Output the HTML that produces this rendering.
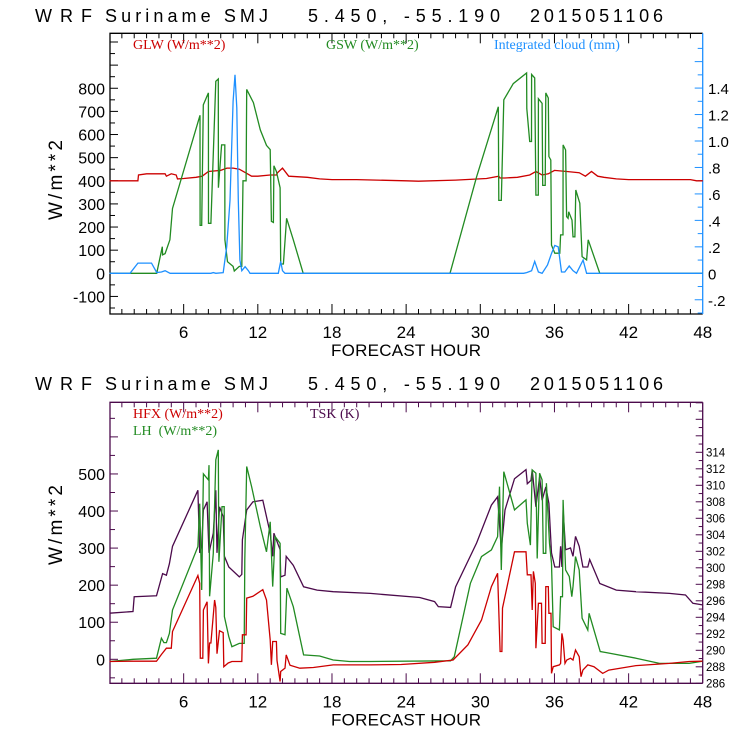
<!DOCTYPE html>
<html><head><meta charset="utf-8"><style>
html,body{margin:0;padding:0;background:#fff;}
svg{display:block;}
</style></head><body>
<svg id="chart" width="740" height="740" viewBox="0 0 740 740" xmlns="http://www.w3.org/2000/svg"></svg>
<script>
// ---- Top panel data ----
const hours_ticks = [6,12,18,24,30,36,42,48];
const glw_hours = [0,2.3,2.35,3,4.5,4.6,5,5.4,5.5,6,7,7.5,8,9,9.5,10,10.5,11,11.5,12,13,13.5,13.6,14,14.5,16,17,18,20,24,25,28,30.5,31.5,31.6,32,33,34,34.5,35,35.5,36,37,38,38.5,39,39.5,40,41,42,47,47.5,48];
const glw_vals  = [400,400,425,430,430,420,430,425,408,410,415,420,440,445,455,455,450,435,420,420,425,425,435,455,420,415,408,405,405,400,398,403,410,420,412,412,415,425,440,425,430,445,440,435,420,440,420,415,408,405,405,400,400];
const gsw_hours = [0,3.82,4.27,4.3,4.5,4.89,5.1,7.32,7.33,7.46,7.59,8.0,8.01,8.2,8.6,8.8,8.81,9.07,9.33,9.34,9.55,10.0,10.1,10.5,10.7,10.8,11.05,11.1,11.64,12.2,12.7,13.0,13.1,13.26,13.3,13.5,13.8,13.85,14.07,14.33,14.87,15.67,27.55,29.7,31.46,31.5,31.7,31.9,32.67,33.75,33.76,34.0,34.14,34.15,34.4,34.5,34.69,34.7,35.0,35.05,35.25,35.3,35.5,35.55,35.7,35.76,36.03,36.43,36.5,36.69,36.7,36.9,36.98,37.1,37.15,37.42,37.5,37.65,37.73,38.05,38.24,38.6,38.73,39.67,48];
const gsw_vals  = [0,0,115,80,85,145,280,683,207,207,728,780,216,216,830,840,370,555,555,145,50,30,10,30,30,400,400,795,738,620,553,535,225,220,465,440,370,40,40,238,145,0,0,417,720,315,315,750,820,866,712,570,570,860,845,338,338,755,735,380,380,780,758,505,490,122,87,87,166,166,555,533,245,238,266,230,158,158,360,303,72,58,145,0,0];
const cloud_hours = [0,1.66,2.3,3.4,3.82,4.2,4.5,4.9,8.2,8.4,8.6,9.2,9.48,9.75,10.0,10.15,10.3,10.42,10.55,10.7,10.97,11.24,11.37,13.66,13.85,14.0,14.2,33.5,33.75,34.15,34.4,34.7,35.0,35.44,35.76,36.03,36.3,36.57,36.84,37.19,37.5,37.78,38.32,38.6,48];
const cloud_vals  = [0,0,0.077,0.077,0.006,0.01,0.02,0,0,0.005,0,0.005,0.2,0.55,1.3,1.5,1.25,0.55,0.1,0.02,0.05,0.02,0,0,0.09,0.02,0,0,0.005,0.02,0.09,0.01,0,0.063,0.15,0.21,0.2,0.01,0.01,0.055,0.02,0,0.1,0,0];
const top_left_ticks = [-100,0,100,200,300,400,500,600,700,800];
const top_right_ticks = [-0.2,0,0.2,0.4,0.6,0.8,1.0,1.2,1.4];
const top_right_labels = ["-.2","0",".2",".4",".6",".8","1.0","1.2","1.4"];
// ---- Bottom panel data ----
const hfx_hours = [0,1.9,3.8,4.2,4.6,5.0,5.1,7.15,7.3,7.35,7.55,7.6,7.9,8.0,8.1,8.2,8.5,8.6,8.7,8.9,9.2,9.25,9.6,9.9,10.7,10.75,11.05,11.1,11.6,12.4,12.7,13.0,13.1,13.2,13.5,13.55,13.8,13.85,14.2,14.3,14.6,15.4,16.5,18.1,21.1,23.6,26.3,27.8,29.0,30.1,30.9,31.4,31.6,31.75,31.8,32.77,33.7,33.8,34.1,34.2,34.3,34.45,34.5,34.7,34.95,35.0,35.25,35.3,35.5,35.55,35.72,35.76,35.9,36.4,36.5,36.6,36.7,36.85,37.0,37.3,37.5,37.7,38.0,38.15,38.3,38.7,39.2,39.9,40.4,42.6,45.3,46.9,47.97];
const hfx_vals  = [-6,-5,-5,13,30,30,75,226,205,3,3,133,155,-11,44,44,160,140,15,77,72,-20,-10,-6,-6,66,66,165,170,188,160,52,-15,48,48,-3,-60,-33,-24,12,-16,-24,-22,-15,-15,-14,-8,-2,39,106,196,232,21,21,138,290,290,228,228,133,237,205,30,151,151,43,43,196,196,124,124,-38,-20,-15,-11,70,52,-11,-2,3,-2,25,7,-47,-29,-15,-20,-38,-29,-17,-11,-6,-5];
const lh_hours = [0,1.9,3.8,4.2,4.4,4.6,4.85,5.1,7.15,7.3,7.46,7.6,8.0,8.05,8.1,8.4,8.6,8.8,8.85,9.1,9.28,9.3,9.65,9.9,10.5,10.9,10.95,11.1,11.5,12.2,12.7,13.0,13.2,13.4,13.8,13.85,14.2,14.35,14.87,15.7,17.0,18.1,19.4,21.1,27.6,27.9,29.2,30.1,30.9,31.4,31.55,31.7,31.9,32.77,33.7,33.8,34.05,34.2,34.5,34.6,34.8,35.0,35.1,35.3,35.35,35.6,35.76,35.9,36.4,36.5,36.65,36.7,36.9,37.2,37.4,37.5,37.7,38.0,38.24,38.7,38.8,39.7,40.2,42.6,44.5,46.9,47.97];
const lh_vals  = [-6,0,3,57,45,45,70,133,304,420,187,500,484,524,170,286,538,565,263,412,412,115,61,34,43,43,268,520,466,358,290,371,196,331,313,70,66,192,142,12,9,-2,-6,-6,-4,7,205,277,295,331,466,241,506,403,430,367,308,511,502,272,502,484,286,286,475,313,259,88,79,169,169,430,241,223,169,196,277,241,111,79,124,21,18,3,-11,-11,-5];
const tsk_hours = [0,1.9,2.0,3.8,4.3,4.6,4.85,5.1,7.15,7.3,7.45,7.6,7.9,8.05,8.4,8.6,8.7,8.9,9.2,9.3,9.65,10.5,10.7,10.75,11.1,11.6,12.4,13.0,13.2,13.3,13.8,13.85,14.2,14.3,14.87,15.7,16.8,18.1,21.1,25.1,26.3,26.6,27.6,28.0,29.7,30.9,31.4,31.7,32.0,32.77,33.7,33.8,34.1,34.2,34.5,34.8,35.0,35.3,35.55,35.76,36.03,36.4,36.5,36.6,36.7,36.9,37.3,37.5,37.7,38.0,38.3,38.7,38.85,39.67,41.0,42.6,45.3,46.6,47.2,47.97];
const tsk_vals  = [294.5,294.7,296.5,296.6,299.3,299.1,300.5,302.6,309.4,301.8,302.5,307,308,301.8,304.2,309.4,301.8,307.4,306.2,301.4,300.1,298.9,299.2,303.4,307,308,308.2,304.2,301.4,304.2,302.2,298.9,299.1,301.4,300.3,297.7,297.3,297.1,296.9,296.4,295.9,295.3,295.2,297.7,303,307.6,308.6,302.2,307,310.8,311.9,310.2,310.6,311.9,307.4,311,308.2,309.8,307.8,301.8,300.1,300.1,302.6,300.1,307,302.2,302.4,301.4,303.8,302.6,300.1,300.1,301,298.1,297.3,297.1,296.9,296.7,295.7,295.5];
const bot_left_ticks = [0,100,200,300,400,500];
const bot_right_ticks = [286,288,290,292,294,296,298,300,302,304,306,308,310,312,314];

const NS='http://www.w3.org/2000/svg';
const svg=document.getElementById('chart');
function mk(tag,attrs,parent){const e=document.createElementNS(NS,tag);for(const k in attrs)e.setAttribute(k,attrs[k]);(parent||svg).appendChild(e);return e;}
const X0=109.5, XH=12.36;
function xs(h){return X0+h*XH;}
function yTopL(v){return 273.3-v*0.2313;}
function yTopR(v){return 273.3-v*132.3;}
function yBotL(v){return 659.3-v*0.3707;}
function yBotR(v){return 683.3-(v-286)*8.25;}

const MONO='"Liberation Mono", monospace';
const SANS='"Liberation Sans", sans-serif';
const SERIF='"Liberation Serif", serif';

function title(y){
  const parts=[['WRF',35,57],['Suriname SMJ',105,163],['5.450, -55.190',308,192],['2015051106',530,133]];
  parts.forEach(p=>{
    const t=mk('text',{x:p[1],y:y,'font-family':SANS,'font-size':18,fill:'#000',textLength:p[2],lengthAdjust:'spacing'});
    
    
    t.textContent=p[0];
  });
}
function xaxis(top,bot,col){
  for(let h=1;h<48;h++){
    const len=(h%6===0)?10:5;
    const t1=mk('line',{x1:xs(h),x2:xs(h),y1:bot,y2:bot-len,stroke:col,'stroke-width':1});
    
    
    const t2=mk('line',{x1:xs(h),x2:xs(h),y1:top,y2:top+len,stroke:col,'stroke-width':1});
    
    
  }
  hours_ticks.forEach(h=>{
    const t=mk('text',{x:xs(h),y:bot+24,'text-anchor':'middle','font-family':SANS,'font-size':17,fill:'#000'});
    
    
    t.textContent=String(h);
  });
  const xl=mk('text',{x:406,y:bot+42,'text-anchor':'middle','font-family':SANS,'font-size':17,fill:'#000',textLength:150,lengthAdjust:'spacing'});
  
  
  xl.textContent='FORECAST HOUR';
}
function ylabel(cy){
  const t=mk('text',{x:0,y:0,transform:`translate(62,${cy}) rotate(-90)`,'text-anchor':'middle','font-family':SANS,'font-size':19,fill:'#000',textLength:80,lengthAdjust:'spacing'});
  
  
  t.textContent='W/m**2';
}
function series(hs,vs,ys,col,name){
  const pts=hs.map((h,i)=>xs(h).toFixed(1)+','+ys(vs[i]).toFixed(1)).join(' ');
  const p=mk('polyline',{points:pts,fill:'none',stroke:col,'stroke-width':1.3,'stroke-linejoin':'miter'});
  
  
}
function legend(x,y,txt,col,name){
  const t=mk('text',{x:x,y:y,'font-family':SERIF,'font-size':14,fill:col});
  
  
  t.setAttribute('xml:space','preserve');
  t.style.whiteSpace='pre';
  t.textContent=txt;
}

// ===== Top panel =====
title(22);
const TT=33.3,TB=314,XL=110,XR=702.7;
mk('polyline',{points:`${XR},${TT} ${XL},${TT} ${XL},${TB} ${XR},${TB}`,fill:'none',stroke:'#000','stroke-width':1.3});
const rA=mk('line',{x1:XR,x2:XR,y1:TT,y2:TB,stroke:'#1e90ff','stroke-width':1.3});


xaxis(TT,TB,'#000');
for(let v=-150;v<=1150;v+=50){const y=yTopL(v);if(y<TT||y>TB)continue;
  const t=mk('line',{x1:XL,x2:XL+(v%100===0?8:5),y1:y,y2:y,stroke:'#000'});
  
  }
top_left_ticks.forEach(v=>{const t=mk('text',{x:105,y:yTopL(v)+6,'text-anchor':'end','font-family':SANS,'font-size':16,fill:'#000'});
  
  
  t.textContent=String(v);});
for(let v=-0.3;v<=1.8;v+=0.1){const y=yTopR(v);if(y<TT||y>TB)continue;
  const t=mk('line',{x1:XR,x2:XR-(Math.abs(Math.round(v*10))%2===0?8:5),y1:y,y2:y,stroke:'#1e90ff'});
  
  }
top_right_ticks.forEach((v,i)=>{const t=mk('text',{x:708,y:yTopR(v)+6,'font-family':SANS,'font-size':15,fill:'#000'});
  
  
  t.textContent=top_right_labels[i];});
ylabel(180);
series(glw_hours,glw_vals,yTopL,'#cc0000','glw-line');
series(gsw_hours,gsw_vals,yTopL,'#228b22','gsw-line');
series(cloud_hours,cloud_vals,yTopR,'#1e90ff','cloud-line');
legend(133,49,'GLW (W/m**2)','#cc0000','legend-glw');
legend(326,49,'GSW (W/m**2)','#228b22','legend-gsw');
legend(494,49,'Integrated cloud (mm)','#1e90ff','legend-cloud');

// ===== Bottom panel =====
title(390);
const BT=402.3,BB=683.3;
const PUR='#4b0a4b';
mk('polyline',{points:`${XR},${BT} ${XL},${BT} ${XL},${BB} ${XR},${BB}`,fill:'none',stroke:PUR,'stroke-width':1.3});
const rB=mk('line',{x1:XR,x2:XR,y1:BT,y2:BB,stroke:PUR,'stroke-width':1.3});


xaxis(BT,BB,PUR);
for(let v=-50;v<=700;v+=50){const y=yBotL(v);if(y<BT||y>BB)continue;
  const t=mk('line',{x1:XL,x2:XL+(v%100===0?8:5),y1:y,y2:y,stroke:PUR});
  
  }
bot_left_ticks.forEach(v=>{const t=mk('text',{x:105,y:yBotL(v)+6,'text-anchor':'end','font-family':SANS,'font-size':16,fill:'#000'});
  
  
  t.textContent=String(v);});
for(let v=286;v<=320;v+=1){const y=yBotR(v);if(y<BT||y>BB)continue;
  const t=mk('line',{x1:XR,x2:XR-(v%2===0?7:4),y1:y,y2:y,stroke:PUR});
  
  }
bot_right_ticks.forEach(v=>{const t=mk('text',{x:706,y:yBotR(v)+4,'font-family':SANS,'font-size':11.5,fill:'#000'});
  
  
  t.textContent=String(v);});
ylabel(525);
series(tsk_hours,tsk_vals,yBotR,PUR,'tsk-line');
series(lh_hours,lh_vals,yBotL,'#228b22','lh-line');
series(hfx_hours,hfx_vals,yBotL,'#cc0000','hfx-line');
legend(133,418,'HFX (W/m**2)','#cc0000','legend-hfx');
legend(133,435,'LH  (W/m**2)','#228b22','legend-lh');
legend(310,418,'TSK (K)',PUR,'legend-tsk');
</script>
</body></html>
